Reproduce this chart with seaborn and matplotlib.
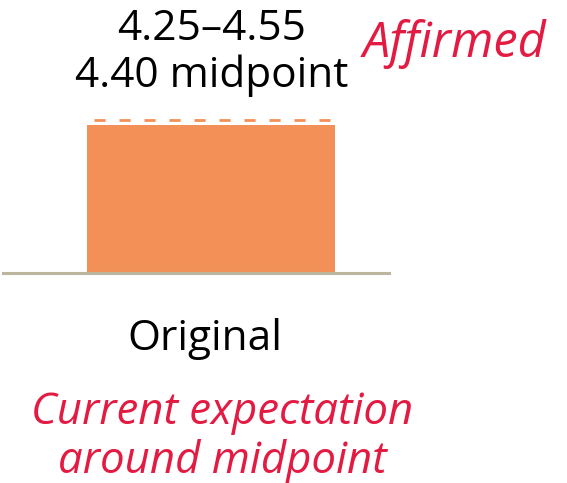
import matplotlib
matplotlib.use("Agg")
import matplotlib.pyplot as plt
import seaborn as sns
import pandas as pd

# Guidance data
categories = ["Original"]
midpoints = [4.40]
range_low = [4.25]
range_high = [4.55]
range_label = "4.25\u20134.55"
mid_label = "4.40 midpoint"
status_label = "Affirmed"
note_lines = ["Current expectation", "around midpoint"]

BAR_COLOR = "#F29057"
RED = "#E31B42"
AXIS_COLOR = "#BDB69F"

sns.set_theme(style="white")
plt.rcParams["font.family"] = ["Open Sans", "DejaVu Sans"]

W, H = 567, 483
fig = plt.figure(figsize=(W / 100, H / 100), dpi=100)

def fx(px):
    return px / W

def fy(py):
    return 1 - py / H

# axes box in pixels: left 3, right 389, bottom 273, top 100
ax = fig.add_axes([fx(3), fy(273), fx(389) - fx(3), fy(100) - fy(273)])

df = pd.DataFrame({"category": categories, "value": midpoints})
sns.barplot(data=df, x="category", y="value", color=BAR_COLOR, width=0.8,
            saturation=1, ax=ax, edgecolor="none")

bar_w = 0.8
for i, hi in enumerate(range_high):
    ax.hlines(hi, i - bar_w * 0.47, i + bar_w * 0.48, colors=BAR_COLOR,
              linewidth=2.0, linestyles=(0, (4, 5)))

ax.set_xlim(-0.671, 0.574)
ax.set_ylim(-0.03, 5.15)
ax.set_xlabel("")
ax.set_ylabel("")
ax.set_xticks([])
ax.set_yticks([])
for s in ["top", "right", "left"]:
    ax.spines[s].set_visible(False)
ax.spines["bottom"].set_color(AXIS_COLOR)
ax.spines["bottom"].set_linewidth(2.2)
ax.patch.set_alpha(0)

fs = 30.5
fig.text(fx(212), fy(29), range_label, ha="center", va="center", fontsize=fs, color="black")
fig.text(fx(212), fy(76), mid_label, ha="center", va="center", fontsize=fs, color="black")
fig.text(fx(455), fy(44), status_label, ha="center", va="center", fontsize=35,
         color=RED, style="italic")
fig.text(fx(205), fy(339), categories[0], ha="center", va="center", fontsize=fs, color="black")
for line, yp in zip(note_lines, [413, 461]):
    fig.text(fx(222), fy(yp), line, ha="center", va="center", fontsize=31.5,
             color=RED, style="italic")

fig.savefig("out.png", dpi=100)
